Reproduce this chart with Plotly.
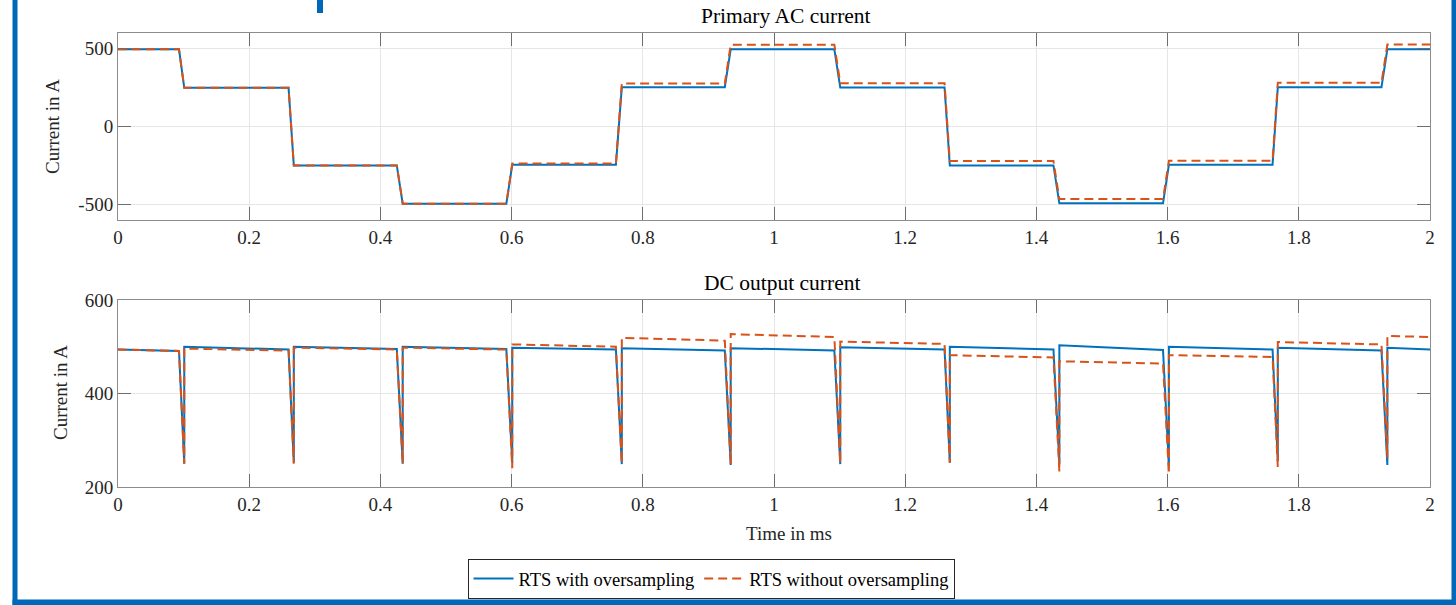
import plotly.graph_objects as go

# ---------------- data ----------------
# transition start / end times in ms (one per step of the AC waveform)
t_start = [0.093, 0.260, 0.425, 0.592, 0.759, 0.925, 1.092, 1.260, 1.426, 1.593, 1.760, 1.926]
t_end = [0.101, 0.268, 0.434, 0.601, 0.768, 0.934, 1.101, 1.268, 1.435, 1.602, 1.768, 1.935]
t_last = 2.0

# Primary AC current, level of each step (A)
ac_with = [495, 248, -250, -495, -245, 252, 495, 250, -250, -493, -245, 252, 495]
ac_without = [495, 248, -250, -495, -238, 276, 525, 278, -222, -466, -220, 280, 526]

# DC output current: value at start / end of each flat segment, and spike minimum (A)
dc_with_start = [494, 500, 500, 500, 498, 497, 497, 499, 500, 503, 500, 498, 498]
dc_with_end = [491, 494, 495, 495, 494, 492, 492, 494, 494, 493, 494, 492, 494]
dc_with_min = [250, 252, 250, 252, 249, 247, 249, 252, 250, 245, 255, 247]

dc_without_start = [494, 496, 498, 498, 505, 519, 527, 511, 482, 469, 482, 510, 523]
dc_without_end = [491, 492, 494, 494, 500, 513, 521, 506, 477, 464, 478, 505, 521]
dc_without_min = [250, 250, 250, 240, 250, 248, 250, 252, 233, 228, 243, 262]

x_ticks = [0, 0.2, 0.4, 0.6, 0.8, 1.0, 1.2, 1.4, 1.6, 1.8, 2.0]
x_ticktext = ["0", "0.2", "0.4", "0.6", "0.8", "1", "1.2", "1.4", "1.6", "1.8", "2"]
ac_yticks = [-500, 0, 500]
ac_yticktext = ["-500", "0", "500"]
dc_yticks = [200, 400, 600]
dc_yticktext = ["200", "400", "600"]

names = ["RTS with oversampling", "RTS without oversampling"]


def ac_series(levels):
    t, v = [0.0], [levels[0]]
    for i in range(len(t_start)):
        t += [t_start[i], t_end[i]]
        v += [levels[i], levels[i + 1]]
    t.append(t_last)
    v.append(levels[-1])
    return t, v


def dc_series(starts, ends, mins):
    t, v = [0.0], [starts[0]]
    for i in range(len(t_start)):
        t += [t_start[i], t_end[i], t_end[i]]
        v += [ends[i], mins[i], starts[i + 1]]
    t.append(t_last)
    v.append(ends[-1])
    return t, v


# ---------------- layout helpers ----------------
W, H = 1456, 605
L, R, T, B = 118, 26, 33, 118
PW, PH = W - L - R, H - T - B


def px(x):
    return (x - L) / PW


def py(y):
    return (H - B - y) / PH


FONT = "Liberation Serif"
BLUE = "#0072BD"
ORANGE = "#D95319"
FRAME = "#0068B8"

fig = go.Figure()

ta, va = ac_series(ac_with)
tb, vb = ac_series(ac_without)
fig.add_trace(go.Scatter(x=ta, y=va, mode="lines", name=names[0],
                         line=dict(color=BLUE, width=2), xaxis="x", yaxis="y"))
fig.add_trace(go.Scatter(x=tb, y=vb, mode="lines", name=names[1],
                         line=dict(color=ORANGE, width=2, dash="9px,5px"), xaxis="x", yaxis="y"))

tc, vc = dc_series(dc_with_start, dc_with_end, dc_with_min)
td, vd = dc_series(dc_without_start, dc_without_end, dc_without_min)
fig.add_trace(go.Scatter(x=tc, y=vc, mode="lines", name=names[0], showlegend=False,
                         line=dict(color=BLUE, width=2), xaxis="x2", yaxis="y2"))
fig.add_trace(go.Scatter(x=td, y=vd, mode="lines", name=names[1], showlegend=False,
                         line=dict(color=ORANGE, width=2, dash="9px,5px"), xaxis="x2", yaxis="y2"))

tickfont = dict(family=FONT, size=19, color="#262626")
common = dict(showline=True, linecolor="#8c8c8c", linewidth=1, mirror="ticks",
              ticks="inside", ticklen=13, tickcolor="#6e6e6e", tickwidth=1,
              showgrid=True, gridcolor="#e6e6e6", gridwidth=1, zeroline=False,
              tickfont=tickfont)

fig.update_layout(
    width=W, height=H,
    margin=dict(l=L, r=R, t=T, b=B, autoexpand=False),
    paper_bgcolor="white", plot_bgcolor="white",
    font=dict(family=FONT, color="#262626"),
    xaxis=dict(domain=[0, 1], anchor="y", range=[0, 2], tickvals=x_ticks, ticktext=x_ticktext, **common),
    yaxis=dict(domain=[py(220), 1], anchor="x", range=[-600, 600], tickvals=ac_yticks,
               ticktext=ac_yticktext, **common),
    xaxis2=dict(domain=[0, 1], anchor="y2", range=[0, 2], tickvals=x_ticks, ticktext=x_ticktext, **common),
    yaxis2=dict(domain=[0, py(300)], anchor="x2", range=[200, 600], tickvals=dc_yticks,
                ticktext=dc_yticktext, **common),
    showlegend=True,
    legend=dict(orientation="h", x=px(711), xanchor="center", y=py(559), yanchor="top",
                bgcolor="white", bordercolor="#262626", borderwidth=1,
                font=dict(family=FONT, size=18.5, color="#000000"), itemwidth=40,
                tracegroupgap=0),
    hovermode=False,
)

annotations = [
    dict(text="Primary AC current", x=px(786), y=py(16), xref="paper", yref="paper",
         showarrow=False, font=dict(family=FONT, size=21.5, color="#000000"), xanchor="center", yanchor="middle"),
    dict(text="DC output current", x=px(782), y=py(283), xref="paper", yref="paper",
         showarrow=False, font=dict(family=FONT, size=21.5, color="#000000"), xanchor="center", yanchor="middle"),
    dict(text="Time in ms", x=px(789), y=py(533), xref="paper", yref="paper",
         showarrow=False, font=dict(family=FONT, size=19, color="#262626"), xanchor="center", yanchor="middle"),
    dict(text="Current in A", x=px(52), y=py(127), xref="paper", yref="paper", textangle=-90,
         showarrow=False, font=dict(family=FONT, size=19, color="#262626"), xanchor="center", yanchor="middle"),
    dict(text="Current in A", x=px(60), y=py(393), xref="paper", yref="paper", textangle=-90,
         showarrow=False, font=dict(family=FONT, size=19, color="#262626"), xanchor="center", yanchor="middle"),
]
fig.update_layout(annotations=annotations)

# slide frame (blue border) and cut-off glyph at the top
shapes = [
    dict(type="rect", xref="paper", yref="paper", x0=px(12.5), x1=px(17.5), y0=py(605), y1=py(0),
         fillcolor=FRAME, line=dict(width=0), layer="above"),
    dict(type="rect", xref="paper", yref="paper", x0=px(1451.5), x1=px(1456), y0=py(605), y1=py(0),
         fillcolor=FRAME, line=dict(width=0), layer="above"),
    dict(type="rect", xref="paper", yref="paper", x0=px(12.5), x1=px(1456), y0=py(605), y1=py(599.5),
         fillcolor=FRAME, line=dict(width=0), layer="above"),
    dict(type="rect", xref="paper", yref="paper", x0=px(317), x1=px(323), y0=py(13), y1=py(0),
         fillcolor=FRAME, line=dict(width=0), layer="above"),
]
fig.update_layout(shapes=shapes)

fig.write_html(
    "out.html",
    config={"displayModeBar": False, "staticPlot": True},
    post_script="document.body.style.margin='0';document.body.style.padding='0';"
                "document.body.style.overflow='hidden';",
)
